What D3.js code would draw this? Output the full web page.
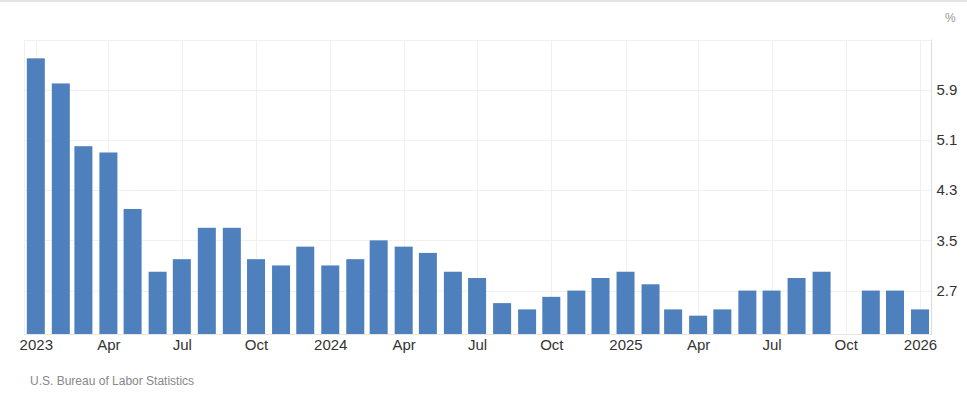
<!DOCTYPE html>
<html>
<head>
<meta charset="utf-8">
<script src="https://cdn.jsdelivr.net/npm/d3@7"></script>
<style>
  html, body { margin: 0; padding: 0; background: #fff; }
  svg { display: block; font-family: "Liberation Sans", Arial, sans-serif; }
</style>
</head>
<body>
<div id="chart"></div>
<script>
// monthly inflation rate, Jan 2023 .. Jan 2026 (Oct 2025 not published)
const months = [
  "2023-01", "2023-02", "2023-03", "2023-04", "2023-05", "2023-06",
  "2023-07", "2023-08", "2023-09", "2023-10", "2023-11", "2023-12",
  "2024-01", "2024-02", "2024-03", "2024-04", "2024-05", "2024-06",
  "2024-07", "2024-08", "2024-09", "2024-10", "2024-11", "2024-12",
  "2025-01", "2025-02", "2025-03", "2025-04", "2025-05", "2025-06",
  "2025-07", "2025-08", "2025-09", "2025-10", "2025-11", "2025-12",
  "2026-01"
];
const values = [
  6.4, 6.0, 5.0, 4.9, 4.0, 3.0,
  3.2, 3.7, 3.7, 3.2, 3.1, 3.4,
  3.1, 3.2, 3.5, 3.4, 3.3, 3.0,
  2.9, 2.5, 2.4, 2.6, 2.7, 2.9,
  3.0, 2.8, 2.4, 2.3, 2.4, 2.7,
  2.7, 2.9, 3.0, null, 2.7, 2.7,
  2.4
];
const yTicks = [2.7, 3.5, 4.3, 5.1, 5.9];
const xTickMonths = ["2023-01", "2023-04", "2023-07", "2023-10", "2024-01", "2024-04", "2024-07",
  "2024-10", "2025-01", "2025-04", "2025-07", "2025-10", "2026-01"];
const sourceLabel = "U.S. Bureau of Labor Statistics";

const width = 967, height = 410;
const plot = { left: 24.5, right: 931.5, top: 39.5, bottom: 334.5 };

const parse = d3.timeParse("%Y-%m");
const data = months.map((m, i) => ({ date: parse(m), value: values[i] }));

const svg = d3.select("#chart").append("svg")
  .attr("width", width)
  .attr("height", height);

// thin frame line on top of the widget
svg.append("line")
  .attr("x1", 0).attr("x2", width).attr("y1", 1).attr("y2", 1)
  .attr("stroke", "#e4e4e4").attr("stroke-width", 2);

const x = d3.scaleTime()
  .domain([parse("2023-01"), parse("2026-01")])
  .range([35.8, 920]);

const y = d3.scaleLinear()
  .domain([2.0, 6.7])
  .range([plot.bottom, plot.top]);

const grid = svg.append("g").attr("class", "grid");

// horizontal grid
grid.selectAll("line.h")
  .data(yTicks.concat([6.7]))
  .join("line")
  .attr("class", "h")
  .attr("x1", plot.left).attr("x2", plot.right)
  .attr("y1", d => Math.round(y(d)) + 0.5).attr("y2", d => Math.round(y(d)) + 0.5)
  .attr("stroke", "#f0f0f0");

// vertical grid
grid.selectAll("line.v")
  .data(xTickMonths.map(parse))
  .join("line")
  .attr("class", "v")
  .attr("x1", d => Math.round(x(d)) + 0.5).attr("x2", d => Math.round(x(d)) + 0.5)
  .attr("y1", plot.top).attr("y2", plot.bottom)
  .attr("stroke", "#f0f0f0");

grid.append("line")
  .attr("x1", plot.left).attr("x2", plot.left)
  .attr("y1", plot.top).attr("y2", plot.bottom)
  .attr("stroke", "#f0f0f0");

// bars
const barW = 18;
svg.append("g")
  .selectAll("rect")
  .data(data.filter(d => d.value != null))
  .join("rect")
  .attr("x", d => x(d.date) - barW / 2)
  .attr("width", barW)
  .attr("y", d => y(d.value))
  .attr("height", d => plot.bottom - y(d.value))
  .attr("fill", "#4e80bd");

// baseline
svg.append("line")
  .attr("x1", plot.left).attr("x2", plot.right)
  .attr("y1", plot.bottom).attr("y2", plot.bottom)
  .attr("stroke", "#e6e6e6");

// right axis line
svg.append("line")
  .attr("x1", plot.right).attr("x2", plot.right)
  .attr("y1", plot.top).attr("y2", plot.bottom)
  .attr("stroke", "#dcdcdc");

// y axis (right)
const yAxis = d3.axisRight(y).tickValues(yTicks).tickSize(0).tickPadding(5)
  .tickFormat(d3.format(".1f"));
svg.append("g")
  .attr("transform", `translate(${plot.right},0)`)
  .call(yAxis)
  .call(g => g.select(".domain").remove())
  .call(g => g.selectAll("text")
    .attr("fill", "#333")
    .style("font-size", "15px")
    .style("font-family", "Liberation Sans, Arial, sans-serif"));

svg.append("text")
  .attr("x", 945).attr("y", 22)
  .attr("fill", "#999")
  .style("font-size", "12px")
  .text("%");

// x axis
const fmtTick = d => d.getMonth() === 0 ? d3.timeFormat("%Y")(d) : d3.timeFormat("%b")(d);
const xAxis = d3.axisBottom(x).tickValues(xTickMonths.map(parse)).tickSize(0).tickPadding(5)
  .tickFormat(fmtTick);
svg.append("g")
  .attr("transform", `translate(0,${plot.bottom})`)
  .call(xAxis)
  .call(g => g.select(".domain").remove())
  .call(g => g.selectAll("text")
    .attr("fill", "#333")
    .style("font-size", "15px")
    .style("font-family", "Liberation Sans, Arial, sans-serif"));

// source
svg.append("text")
  .attr("x", 30).attr("y", 385)
  .attr("fill", "#888")
  .style("font-size", "12px")
  .text(sourceLabel);
</script>
</body>
</html>
